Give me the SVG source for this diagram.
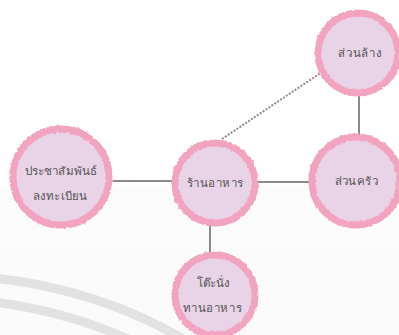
<svg xmlns="http://www.w3.org/2000/svg" width="399" height="335" viewBox="0 0 399 335">
<defs>
<filter id="rough" x="-20%" y="-20%" width="140%" height="140%">
<feTurbulence type="fractalNoise" baseFrequency="0.3" numOctaves="2" seed="3" result="n"/>
<feDisplacementMap in="SourceGraphic" in2="n" scale="3" xChannelSelector="R" yChannelSelector="G"/>
</filter>
<linearGradient id="bg" x1="0" y1="0" x2="0" y2="1">
<stop offset="0" stop-color="#ffffff"/>
<stop offset="0.55" stop-color="#ffffff"/>
<stop offset="0.56" stop-color="#fcfcfc"/>
<stop offset="1" stop-color="#fafafa"/>
</linearGradient>
</defs>
<style>
.ring{fill:#e9d3e6;stroke:#f2a3c0;stroke-width:7;filter:url(#rough)}
.lbl{font-family:"Noto Sans","DejaVu Sans",sans-serif;font-size:11.5px;fill:#555555;text-anchor:middle}
.edge{stroke:#8a8a8a;stroke-width:2;fill:none}
.dot{stroke:#8a8a8a;stroke-width:2;stroke-dasharray:2 1.5;fill:none}
.arc{stroke:#e2e2e2;stroke-width:9;fill:none}
</style>
<rect width="399" height="335" fill="url(#bg)"/>
<g id="background">
<path class="arc" d="M-5 278 Q100 290 185 340"/>
<path class="arc" d="M-5 302 Q70 312 130 340"/>
</g>
<g id="connectors">
<line class="edge" x1="108" y1="181" x2="174" y2="181"/>
<line class="edge" x1="256" y1="182" x2="312" y2="182"/>
<line class="edge" x1="359" y1="94" x2="359" y2="135"/>
<line class="edge" x1="210" y1="224" x2="210" y2="255"/>
<line class="dot" x1="222" y1="139" x2="322" y2="72"/>
</g>
<g id="node-pr">
<circle class="ring" cx="61" cy="177" r="48"/>
<text class="lbl" x="61" y="175" textLength="72" lengthAdjust="spacingAndGlyphs">ประชาสัมพันธ์</text>
<text class="lbl" x="60" y="200" textLength="54" lengthAdjust="spacing">ลงทะเบียน</text>
</g>
<g id="node-restaurant">
<circle class="ring" cx="215" cy="183" r="40"/>
<text class="lbl" x="215" y="187" textLength="56" lengthAdjust="spacing">ร้านอาหาร</text>
</g>
<g id="node-kitchen">
<circle class="ring" cx="356" cy="181" r="44"/>
<text class="lbl" x="356" y="185" textLength="43" lengthAdjust="spacing">ส่วนครัว</text>
</g>
<g id="node-wash">
<circle class="ring" cx="358" cy="53" r="40"/>
<text class="lbl" x="360" y="57" textLength="44" lengthAdjust="spacing">ส่วนล้าง</text>
</g>
<g id="node-tables">
<circle class="ring" cx="215" cy="295" r="40"/>
<text class="lbl" x="213" y="287" textLength="33" lengthAdjust="spacing">โต๊ะนั่ง</text>
<text class="lbl" x="212" y="312" textLength="59" lengthAdjust="spacing">ทานอาหาร</text>
</g>
</svg>
